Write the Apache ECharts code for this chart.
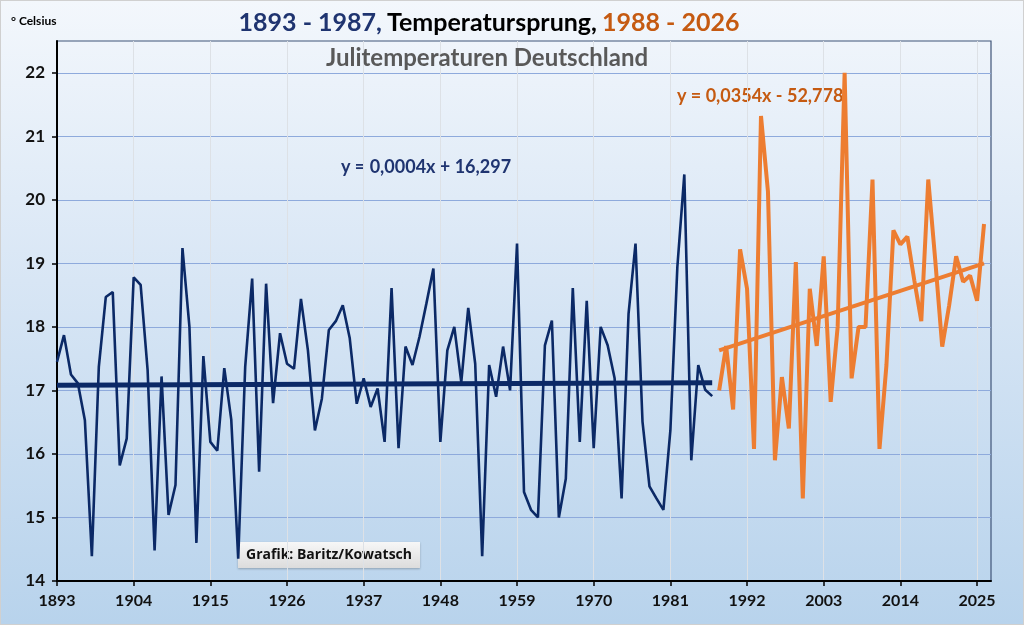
<!DOCTYPE html>
<html>
<head>
<meta charset="utf-8">
<script src="https://cdn.jsdelivr.net/npm/echarts@6/dist/echarts.min.js"></script>
<style>
html,body{margin:0;padding:0;width:1024px;height:625px;overflow:hidden;}
#c{width:1022px;height:623px;border:1px solid #d0d0d0;
background:linear-gradient(to bottom,#f3f7fc 0%,#d8e6f5 45%,#b8d3ec 100%);}
</style>
</head>
<body>
<div id="c"></div>
<script>
// ---- data ----
const startYearOld = 1893;
const valuesOld = [
17.45,17.87,17.25,17.11,16.53,14.39,17.37,18.47,18.55,15.82,
16.24,18.78,18.66,17.32,14.48,17.22,15.04,15.51,19.24,18.00,
14.60,17.54,16.19,16.05,17.35,16.54,14.35,17.37,18.76,15.72,
18.68,16.80,17.90,17.42,17.34,18.44,17.63,16.37,16.87,17.95,
18.09,18.34,17.82,16.79,17.19,16.74,17.03,16.19,18.61,16.09,
17.69,17.40,17.84,18.37,18.92,16.19,17.63,18.00,17.13,18.30,
17.42,14.39,17.40,16.90,17.69,17.00,19.31,15.40,15.12,15.00,
17.71,18.10,15.00,15.61,18.61,16.19,18.41,16.09,18.00,17.71,
17.19,15.30,18.21,19.31,16.51,15.49,15.30,15.12,16.37,18.94,
20.40,15.90,17.40,17.01,16.91
];
const startYearNew = 1988;
const valuesNew = [
17.00,17.70,16.70,19.22,18.60,16.08,21.32,20.13,15.90,17.21,
16.40,19.02,15.30,18.60,17.70,19.11,16.82,18.00,22.00,17.19,
18.00,18.00,20.32,16.08,17.40,19.52,19.30,19.42,18.73,18.09,
20.32,19.05,17.69,18.34,19.11,18.71,18.81,18.41,19.62
];
const trendOld = [[1893,17.08],[1987,17.12]];
const trendNew = [[1988,17.63],[2026,19.00]];
const xTicks = [1893,1904,1915,1926,1937,1948,1959,1970,1981,1992,2003,2014,2025];
const yTicks = [14,15,16,17,18,19,20,21,22];
const eqOld = 'y = 0,0004x + 16,297';
const eqNew = 'y = 0,0354x - 52,778';

const ptsOld = valuesOld.map((v,i)=>[startYearOld+i,v]);
const ptsNew = valuesNew.map((v,i)=>[startYearNew+i,v]);

const FONT = 'Lato, "Open Sans", sans-serif';
const NAVY = '#0b2966';
const ORANGE = '#ed7d31';
const ORTXT = '#c55a11';

const chart = echarts.init(document.getElementById('c'));
chart.setOption({
  animation:false,
  backgroundColor:'transparent',
  title:[{
    text:'{a|1893 - 1987,} {b|Temperatursprung,} {c|1988 - 2026}',
    left:483, top:4, textAlign:'center',
    textStyle:{rich:{
      a:{color:'#1f3470',fontSize:25,fontWeight:'bold',fontFamily:FONT},
      b:{color:'#000000',fontSize:25,fontWeight:'bold',fontFamily:FONT},
      c:{color:ORTXT,fontSize:25,fontWeight:'bold',fontFamily:FONT}
    }}
  },{
    text:'Julitemperaturen Deutschland',
    left:481, top:40, textAlign:'center',
    textStyle:{color:'#595959',fontSize:24,fontWeight:'bold',fontFamily:FONT}
  },{
    text:'° Celsius',
    left:5, top:9,
    textStyle:{color:'#000',fontSize:12,fontWeight:'bold',fontFamily:FONT}
  }],
  grid:{left:56,right:32,top:40,bottom:43,show:true,borderColor:'#3f5478',borderWidth:1.2,backgroundColor:'transparent'},
  xAxis:{
    type:'value',min:1893,max:2027,interval:11,
    axisLine:{lineStyle:{color:'#000',width:2}},
    axisTick:{show:true,length:5,lineStyle:{color:'#000',width:1.5},
      customValues:xTicks},
    axisLabel:{color:'#111',fontSize:16,fontWeight:'bold',fontFamily:FONT,margin:12,
      customValues:xTicks,
      formatter:v=>xTicks.indexOf(v)>=0?String(v):''},
    splitLine:{show:true,lineStyle:{color:'#dde1e6',width:1}}
  },
  yAxis:{
    type:'value',min:14,max:22.5,interval:1,
    axisLine:{show:true,lineStyle:{color:'#000',width:2}},
    axisTick:{show:true,length:5,lineStyle:{color:'#000',width:1.5},customValues:yTicks},
    axisLabel:{color:'#111',fontSize:17,fontWeight:'bold',fontFamily:FONT,margin:12,
      customValues:yTicks,
      formatter:v=>yTicks.indexOf(v)>=0?String(v):''},
    splitLine:{show:true,lineStyle:{color:'#8eaadc',width:1}}
  },
  series:[
    {type:'line',data:ptsOld,symbol:'none',lineStyle:{color:NAVY,width:2.6},z:3},
    {type:'line',data:trendOld,symbol:'none',lineStyle:{color:NAVY,width:5},z:4},
    {type:'line',data:ptsNew,symbol:'none',lineStyle:{color:ORANGE,width:4},z:3},
    {type:'line',data:trendNew,symbol:'none',lineStyle:{color:ORANGE,width:4},z:4}
  ],
  graphic:[
    {type:'text',left:340,top:157,style:{text:eqOld,fill:'#1f3470',font:'bold 18px '+FONT}},
    {type:'text',left:676,top:86,style:{text:eqNew,fill:ORTXT,font:'bold 18px '+FONT}},
    {type:'group',left:237,top:541,z:100,children:[
      {type:'rect',shape:{x:0,y:0,width:182,height:26},
       style:{fill:new echarts.graphic.LinearGradient(0,0,0,1,[{offset:0,color:'#f7f7f7'},{offset:1,color:'#dcdcdc'}]),
       shadowBlur:2,shadowColor:'rgba(0,0,0,0.25)',shadowOffsetY:1}},
      {type:'text',style:{x:91,y:13,text:'Grafik: Baritz/Kowatsch',fill:'#111',font:'bold 14px "Open Sans", sans-serif',align:'center',verticalAlign:'middle'}}
    ]}
  ]
});
</script>
</body>
</html>
